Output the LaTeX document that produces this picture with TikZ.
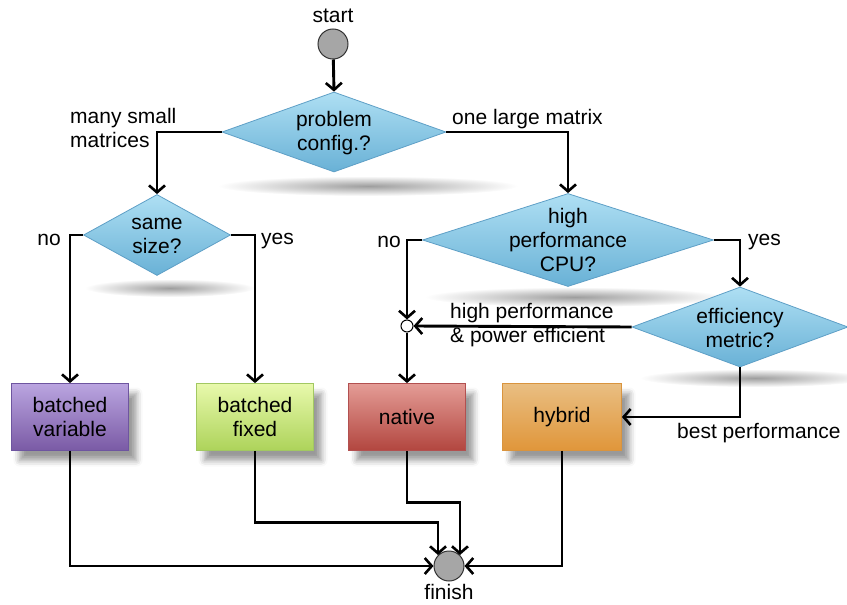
\documentclass[tikz,border=0pt]{standalone}
\usepackage{fontspec}
\setmainfont{Liberation Sans}
\usetikzlibrary{shapes.geometric,arrows.meta,shadows.blur}

% decision diamonds
\definecolor{dmtop}{HTML}{AEDFF3}
\definecolor{dmbot}{HTML}{69B1D6}
\definecolor{dmedge}{HTML}{5E9FC6}
% task boxes
\definecolor{bvtop}{HTML}{BAA5E0}
\definecolor{bvbot}{HTML}{7A5AA5}
\definecolor{bvedge}{HTML}{6E55A0}
\definecolor{bftop}{HTML}{E8F9AC}
\definecolor{bfbot}{HTML}{ADD35A}
\definecolor{bfedge}{HTML}{A2C862}
\definecolor{natop}{HTML}{E49C96}
\definecolor{nabot}{HTML}{B2463F}
\definecolor{naedge}{HTML}{B25050}
\definecolor{hytop}{HTML}{E9BE82}
\definecolor{hybot}{HTML}{E0963A}
\definecolor{hyedge}{HTML}{D9943E}

\begin{document}
\begin{tikzpicture}[x=1pt,y=-1pt,
  font=\fontsize{21}{24}\selectfont,
  decision/.style={diamond, draw=dmedge, line width=0.8pt,
    top color=dmtop, bottom color=dmbot, inner sep=0pt},
  dtext/.style={align=center, inner sep=0pt},
  task/.style={rectangle, line width=0.8pt, minimum width=117pt,
    minimum height=67pt, align=center,
    blur shadow={shadow xshift=8pt, shadow yshift=-10pt,
      shadow blur radius=6pt, shadow opacity=40}},
  term/.style={circle, draw=black!80, line width=1pt, fill=black!35,
    minimum size=30pt, inner sep=0pt},
  junction/.style={circle, draw=black, line width=1pt, fill=white,
    minimum size=12pt, inner sep=0pt},
  flow/.style={line width=2.9pt,
    -{Straight Barb[length=7pt,width=16pt,line width=2.6pt]}},
  lbl/.style={align=left, inner sep=0pt},
  floorshadow/.style={inner color=black!38, outer color=white}
]
\useasboundingbox (0,0) rectangle (847,605);

% soft floor shadows under the decisions
\shade[floorshadow] (368,186) ellipse (150pt and 10pt);
\shade[floorshadow] (170,288) ellipse (85pt and 9pt);
\shade[floorshadow] (575,297) ellipse (150pt and 10pt);
\shade[floorshadow] (755,378) ellipse (115pt and 9pt);

% terminals
\node[term] (start) at (333,44) {};
\node at (333,16) {start};
\node[term] (fin) at (449,566) {};
\node at (449,592) {finish};

% decisions
\node[decision, minimum width=224pt, minimum height=80pt] (pc) at (334,132) {};
\node[dtext] at ([yshift=-1.5pt]pc.center) {problem\\config.?};
\node[decision, minimum width=147pt, minimum height=81pt] (ss) at (157,235) {};
\node[dtext] at ([yshift=-1pt]ss.center) {same\\size?};
\node[decision, minimum width=291pt, minimum height=93pt] (hp) at (568,240) {};
\node[dtext] at (hp) {high\\performance\\CPU?};
\node[decision, minimum width=216pt, minimum height=80pt] (em) at (740,327) {};
\node[dtext] at ([yshift=-1pt]em.center) {efficiency\\metric?};

\node[junction] (j) at (407,326) {};

% tasks
\node[task, draw=bvedge, top color=bvtop, bottom color=bvbot] (bv) at (70,417) {batched\\variable};
\node[task, draw=bfedge, top color=bftop, bottom color=bfbot] (bf) at (255,417) {batched\\fixed};
\node[task, draw=naedge, top color=natop, bottom color=nabot] (nat) at (407,417) {native};
\node[task, draw=hyedge, top color=hytop, bottom color=hybot, minimum width=119pt] (hyb) at (562,417) {hybrid};

% connectors
\draw[flow] (start) -- (pc.north);
\draw[flow] (pc.west) -| (ss.north);
\draw[flow] (pc.east) -| (hp.north);
\draw[flow] (ss.west) -| (bv.north);
\draw[flow] (ss.east) -| (bf.north);
\draw[flow] (hp.west) -| (j.north);
\draw[flow] (hp.east) -| (em.north);
\draw[flow] (em.west) -- (j.east);
\draw[flow] (j.south) -- (nat.north);
\draw[flow] (em.south) |- (hyb.east);
\draw[flow] (bv.south) |- (fin.west);
\draw[flow] (bf.south) -- ++(0,72) -| (fin.north west);
\draw[flow] (nat.south) -- ++(0,52) -| (fin.north east);
\draw[flow] (hyb.south) |- (fin.east);

% branch labels
\node[lbl, anchor=west] at (70,128) {many small\\matrices};
\node[lbl, anchor=west] at (452,119) {one large matrix};
\node[lbl, anchor=east] at (61,240) {no};
\node[lbl, anchor=west] at (261,241) {yes};
\node[lbl, anchor=east] at (401,242) {no};
\node[lbl, anchor=west] at (748,242) {yes};
\node[lbl, anchor=west] at (450,325) {high performance\\\& power efficient};
\node[lbl, anchor=west] at (677,433) {best performance};
\end{tikzpicture}
\end{document}
